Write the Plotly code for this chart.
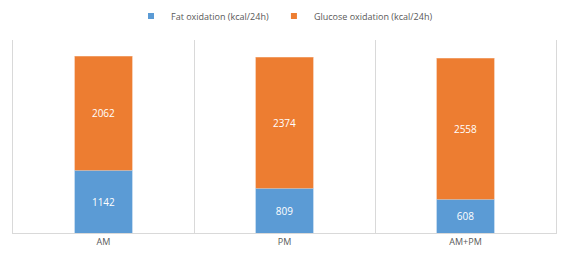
import plotly.graph_objects as go

categories = ["AM", "PM", "AM+PM"]
fat = [1142, 809, 608]
glucose = [2062, 2374, 2558]
names = ["Fat oxidation (kcal/24h)", "Glucose oxidation (kcal/24h)"]
colors = ["#5B9BD5", "#ED7D31"]
edges = ["#9DC3E6", "#F4B183"]

fig = go.Figure()
for vals, name, col, edge in zip([fat, glucose], names, colors, edges):
    fig.add_trace(go.Bar(
        x=categories, y=vals, name=name, showlegend=False,
        marker=dict(color=col, line=dict(color=edge, width=0.6)),
        text=vals, textposition="inside", insidetextanchor="middle",
        textfont=dict(color="white", size=10, family="Open Sans"),
    ))
for name, col in zip(names, colors):
    fig.add_trace(go.Scatter(
        x=[None], y=[None], mode="markers", name=name,
        marker=dict(symbol="square", size=6, color=col),
    ))

fig.update_layout(
    barmode="stack",
    bargap=0.685,
    width=570, height=259,
    margin=dict(l=13, r=14, t=40, b=26, autoexpand=False),
    paper_bgcolor="white", plot_bgcolor="white",
    font=dict(family="Open Sans", size=9, color="#595959"),
    showlegend=True,
    legend=dict(orientation="h", x=0.5, xanchor="center", y=1.124, yanchor="middle",
                font=dict(size=9, color="#595959"), itemwidth=30,
                traceorder="normal", tracegroupgap=0),
    uniformtext=dict(minsize=9, mode="show"),
)
fig.update_xaxes(
    type="category", tickson="boundaries", showgrid=True, gridcolor="#D9D9D9",
    gridwidth=1, showline=True, linecolor="#D9D9D9", linewidth=1,
    ticks="", tickfont=dict(size=9, color="#595959"),
)
fig.update_yaxes(range=[0, 3500], showticklabels=False, ticks="", showgrid=False,
                 zeroline=False, showline=True, mirror=True, linecolor="#D9D9D9", linewidth=1)

fig.write_html("out.html")
